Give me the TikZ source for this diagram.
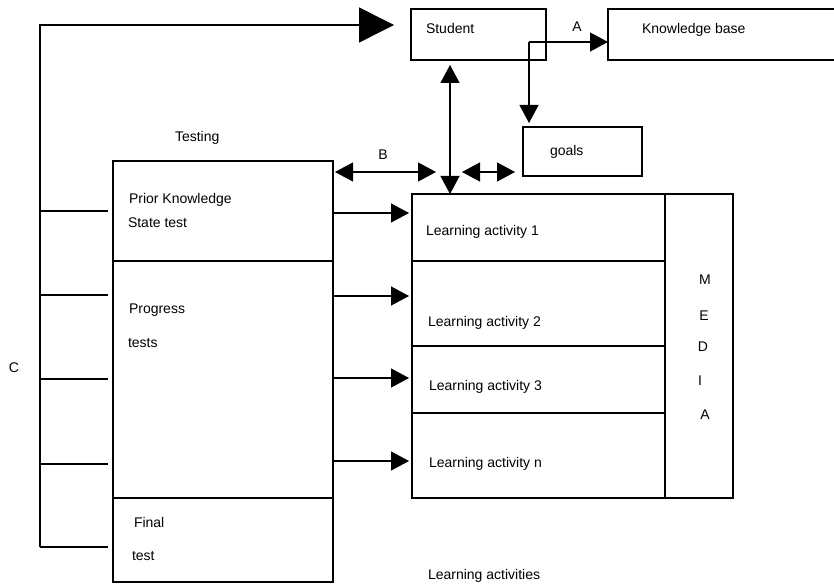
\documentclass[tikz,border=0pt]{standalone}
\usepackage{fontspec}
\setmainfont{Liberation Sans}
\usetikzlibrary{arrows.meta}
\begin{document}
\begin{tikzpicture}[x=1pt,y=-1pt,
  box/.style={draw=drawColor,line width=1.2pt,anchor=north west,inner sep=0pt,outer sep=0pt},
  txt/.style={text=drawColor,anchor=base west,inner sep=0pt,outer sep=0pt,font=\fontsize{14}{16}\selectfont},
  ctr/.style={txt,anchor=base},
  conn/.style={draw=drawColor,line width=1.2pt},
  arr/.style={conn,-{Triangle[length=18pt,width=19pt]}},
  dbl/.style={conn,{Triangle[length=18pt,width=19pt]}-{Triangle[length=18pt,width=19pt]}},
  loopline/.style={draw=drawColor,line width=1.6pt,-{Triangle[length=35pt,width=35pt]}}]
\definecolor{drawColor}{RGB}{0,0,0}
\definecolor{fillColor}{RGB}{255,255,255}
\path[use as bounding box,fill=fillColor] (0,0) rectangle (834,585);

% top row
\node[box,minimum width=135pt,minimum height=51pt] (student) at (411,9) {};
\node[box,minimum width=240pt,minimum height=51pt] (kbase) at (608,9) {};
\node[box,minimum width=119pt,minimum height=49pt] (goals) at (523,127) {};

% testing column
\node[box,minimum width=220pt,minimum height=100pt] (prior) at (113,161) {};
\node[box,minimum width=220pt,minimum height=237pt] (progress) at (113,261) {};
\node[box,minimum width=220pt,minimum height=84pt] (final) at (113,498) {};

% learning activities and media
\node[box,minimum width=253pt,minimum height=67pt] (act1) at (412,194) {};
\node[box,minimum width=253pt,minimum height=85pt] (act2) at (412,261) {};
\node[box,minimum width=253pt,minimum height=67pt] (act3) at (412,346) {};
\node[box,minimum width=253pt,minimum height=85pt] (actn) at (412,413) {};
\node[box,minimum width=68pt,minimum height=304pt] (media) at (665,194) {};

% texts
\node[txt] (lblStudent) at (426,34) {Student};
\node[ctr] (lblA) at (577,32) {A};
\node[txt] (lblKbase) at (642,34) {Knowledge base};
\node[txt] (lblTesting) at (175,142) {Testing};
\node[txt] (lblGoals) at (550,156) {goals};
\node[ctr] (lblB) at (383,160) {B};
\node[txt] (lblPrior) at (129,204) {Prior Knowledge};
\node[txt] (lblState) at (128,228) {State test};
\node[txt] (lblProgress) at (129,313) {Progress};
\node[txt] (lblTests) at (128,347) {tests};
\node[txt] (lblFinal) at (134,527) {Final};
\node[txt] (lblTest) at (132,560) {test};
\node[ctr] (lblC) at (14,372) {C};
\node[txt] (lblAct1) at (426,236) {Learning activity 1};
\node[txt] (lblAct2) at (428,326) {Learning activity 2};
\node[txt] (lblAct3) at (429,390) {Learning activity 3};
\node[txt] (lblActn) at (429,467) {Learning activity n};
\node[txt] (lblActs) at (428,579) {Learning activities};
\foreach \ch/\xx/\yy [count=\i] in {M/705/284,E/704/320,D/703/351,I/700/385,A/705/419}
  \node[ctr] (lblMedia\i) at (\xx,\yy) {\ch};

% loop C back to the student
\coordinate (cbot) at (40,547);
\coordinate (ctop) at (40,25);
\path[loopline] (cbot) -- (ctop) -- ([xshift=-17pt]student.west |- ctop);
\foreach \yy in {211,295,379,464,547}
  \path[conn] (ctop |- 0,\yy) -- ([xshift=-5pt]prior.west |- 0,\yy);

% tests feed the activities
\foreach \yy in {213,296,378,461}
  \path[arr,shorten >=3pt] (prior.east |- 0,\yy) -- (act1.west |- 0,\yy);

% student to knowledge base and goals
\coordinate (split) at (529,42);
\coordinate (mid) at (450,0);
\path[arr] (split) -- (kbase.west |- split);
\path[arr,shorten >=4pt] (split) -- (goals.north -| split);
\path[dbl,shorten <=5pt] (student.south -| mid) -- (act1.north -| mid);

% B and goals links
\coordinate (bEnd) at (436,172);
\coordinate (gStart) at (462,172);
\path[dbl,shorten <=2pt] (prior.east |- bEnd) -- (bEnd);
\path[dbl,shorten >=8pt] (gStart) -- (goals.west |- gStart);
\end{tikzpicture}
\end{document}
